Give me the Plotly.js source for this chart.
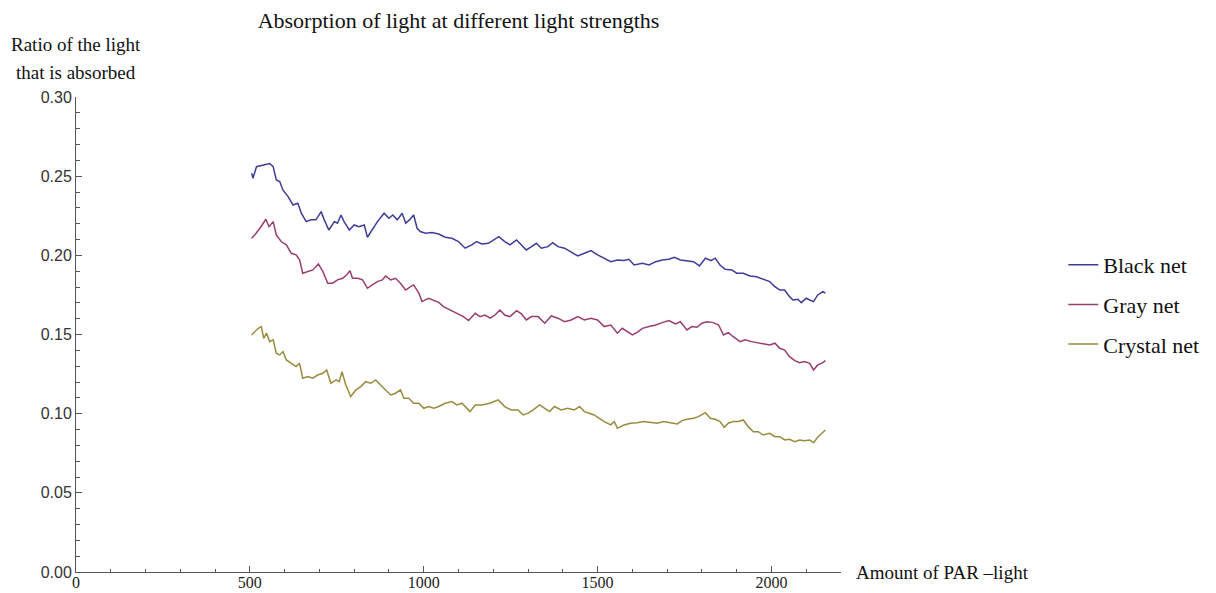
<!DOCTYPE html>
<html>
<head>
<meta charset="utf-8">
<script src="https://cdn.plot.ly/plotly-3.0.1.min.js"></script>
<style>html,body{margin:0;padding:0;background:#fff;}#chart{width:1216px;height:593px;}</style>
</head>
<body>
<div id="chart"></div>
<script>
// ---- data ----
const seriesNames = ["Black net", "Gray net", "Crystal net"];

const blackX = [505,509,519,538,557,567,576,586,595,610,624,638,648,662,676,690,705,714,727,743,752,762,771,786,800,814,829,838,852,867,886,900,911,924,938,948,959,971,981,990,1005,1024,1043,1062,1081,1100,1119,1138,1152,1167,1186,1200,1216,1233,1248,1267,1281,1295,1310,1324,1338,1357,1371,1386,1405,1424,1443,1462,1481,1500,1519,1538,1557,1576,1590,1605,1629,1648,1667,1686,1705,1721,1738,1757,1776,1793,1810,1826,1838,1852,1867,1886,1900,1919,1938,1957,1976,1995,2010,2024,2038,2052,2062,2076,2086,2100,2110,2121,2133,2148,2155];
const blackY = [0.2519,0.2487,0.2560,0.2570,0.2580,0.2560,0.2476,0.2466,0.2413,0.2371,0.2318,0.2329,0.2266,0.2213,0.2224,0.2224,0.2276,0.2224,0.2160,0.2213,0.2203,0.2255,0.2213,0.2160,0.2192,0.2181,0.2192,0.2114,0.2160,0.2213,0.2266,0.2234,0.2255,0.2224,0.2266,0.2203,0.2224,0.2255,0.2171,0.2150,0.2140,0.2144,0.2135,0.2114,0.2108,0.2087,0.2045,0.2066,0.2087,0.2072,0.2076,0.2097,0.2118,0.2087,0.2066,0.2097,0.2066,0.2034,0.2055,0.2076,0.2045,0.2055,0.2080,0.2055,0.2045,0.2023,0.1996,0.2013,0.2030,0.2003,0.1982,0.1960,0.1971,0.1967,0.1975,0.1939,0.1950,0.1939,0.1960,0.1971,0.1975,0.1988,0.1971,0.1967,0.1960,0.1933,0.1982,0.1967,0.1982,0.1939,0.1912,0.1908,0.1887,0.1887,0.1870,0.1865,0.1849,0.1834,0.1802,0.1781,0.1781,0.1739,0.1718,0.1723,0.1701,0.1729,0.1718,0.1708,0.1750,0.1771,0.1761];

const grayX = [505,514,529,546,555,567,576,590,605,619,633,643,652,667,681,697,710,724,738,752,767,778,788,795,810,824,838,852,867,881,890,905,919,933,948,962,971,986,995,1014,1029,1043,1057,1076,1095,1114,1129,1148,1162,1176,1191,1205,1219,1233,1248,1267,1281,1295,1310,1329,1348,1367,1386,1405,1424,1443,1462,1481,1500,1519,1538,1557,1571,1586,1600,1614,1629,1648,1667,1686,1705,1724,1738,1757,1771,1786,1800,1814,1833,1848,1862,1876,1890,1910,1924,1943,1962,1976,1995,2010,2024,2038,2052,2067,2081,2095,2110,2121,2133,2148,2155];
const grayY = [0.2108,0.2129,0.2171,0.2228,0.2181,0.2213,0.2129,0.2087,0.2066,0.2013,0.2003,0.1971,0.1887,0.1897,0.1908,0.1946,0.1897,0.1824,0.1824,0.1845,0.1855,0.1876,0.1903,0.1855,0.1855,0.1845,0.1792,0.1813,0.1834,0.1845,0.1870,0.1845,0.1855,0.1824,0.1781,0.1802,0.1813,0.1761,0.1708,0.1729,0.1718,0.1703,0.1676,0.1655,0.1634,0.1613,0.1588,0.1634,0.1613,0.1623,0.1603,0.1623,0.1655,0.1623,0.1613,0.1651,0.1630,0.1592,0.1613,0.1613,0.1571,0.1617,0.1603,0.1581,0.1592,0.1613,0.1592,0.1603,0.1592,0.1550,0.1560,0.1508,0.1539,0.1518,0.1497,0.1513,0.1539,0.1550,0.1560,0.1575,0.1588,0.1567,0.1581,0.1529,0.1550,0.1546,0.1571,0.1581,0.1575,0.1560,0.1497,0.1512,0.1486,0.1455,0.1466,0.1455,0.1449,0.1440,0.1434,0.1445,0.1413,0.1402,0.1360,0.1335,0.1322,0.1329,0.1318,0.1276,0.1308,0.1322,0.1335];

const crystalX = [505,514,524,533,540,548,557,567,576,586,595,605,619,633,643,652,667,681,695,710,721,733,748,757,765,776,790,805,819,833,848,862,876,890,905,919,933,943,957,971,986,1000,1014,1029,1043,1062,1081,1095,1110,1133,1148,1167,1190,1214,1233,1252,1271,1286,1300,1314,1333,1348,1362,1376,1395,1414,1433,1448,1462,1476,1490,1505,1519,1538,1548,1557,1576,1595,1614,1633,1652,1671,1690,1709,1729,1743,1757,1776,1790,1810,1824,1838,1852,1864,1876,1890,1905,1919,1933,1948,1962,1976,1995,2010,2024,2038,2052,2067,2081,2095,2110,2121,2133,2145,2155];
const crystalY = [0.1497,0.1518,0.1539,0.1550,0.1476,0.1508,0.1455,0.1466,0.1382,0.1371,0.1392,0.1339,0.1318,0.1297,0.1318,0.1224,0.1234,0.1224,0.1244,0.1255,0.1276,0.1192,0.1213,0.1202,0.1265,0.1181,0.1108,0.1150,0.1171,0.1202,0.1192,0.1213,0.1181,0.1150,0.1118,0.1129,0.1150,0.1097,0.1097,0.1066,0.1066,0.1034,0.1045,0.1034,0.1045,0.1066,0.1076,0.1055,0.1066,0.1013,0.1055,0.1055,0.1066,0.1087,0.1045,0.1023,0.1023,0.0992,0.1003,0.1023,0.1055,0.1034,0.1013,0.1045,0.1023,0.1034,0.1023,0.1045,0.1013,0.1003,0.0992,0.0971,0.0950,0.0929,0.0950,0.0908,0.0929,0.0940,0.0942,0.0950,0.0943,0.0940,0.0950,0.0943,0.0935,0.0956,0.0965,0.0971,0.0981,0.1006,0.0971,0.0965,0.0950,0.0914,0.0940,0.0950,0.0950,0.0960,0.0918,0.0886,0.0886,0.0865,0.0876,0.0855,0.0855,0.0834,0.0838,0.0823,0.0834,0.0829,0.0834,0.0817,0.0851,0.0876,0.0897];

const chartTitle = "Absorption of light at different light strengths";
const yTitleLines = ["Ratio of the light", "that is absorbed"];
const xTitle = "Amount of PAR \u2013light";

// ---- drawing ----
const FONT = "Liberation Serif, Times New Roman, serif";
const SANS = "Liberation Sans, Arial, sans-serif";
const colors = ["#3d3d99", "#993d71", "#998b3d"];
const xsAll = [blackX, grayX, crystalX];
const ysAll = [blackY, grayY, crystalY];

const traces = seriesNames.map((n, i) => ({
  type: "scatter", mode: "lines", name: n,
  x: xsAll[i], y: ysAll[i],
  legendgroup: "g" + i,
  line: {color: colors[i], width: 1.5}
}));

const axisCommon = {
  showgrid: false, zeroline: false, showline: true,
  linecolor: "#555", linewidth: 1,
  ticks: "inside", ticklen: 6, tickwidth: 1, tickcolor: "#555",
  fixedrange: true
};

const layout = {
  width: 1216, height: 593,
  margin: {l: 76, r: 369, t: 97, b: 21, pad: 0},
  paper_bgcolor: "#fff", plot_bgcolor: "#fff",
  title: {text: chartTitle, x: 0.5, xref: "paper", xanchor: "center",
          y: 1 - 20/593, yref: "container", yanchor: "middle",
          font: {family: FONT, size: 22, color: "#111"}},
  xaxis: Object.assign({}, axisCommon, {
    range: [0, 2200], tick0: 0, dtick: 500,
    tickfont: {family: FONT, size: 16, color: "#222"},
    ticklabelstandoff: -4,
    minor: {dtick: 100, ticks: "inside", ticklen: 3.5, tickwidth: 1, tickcolor: "#555"}
  }),
  yaxis: Object.assign({}, axisCommon, {
    range: [0, 0.30], tick0: 0, dtick: 0.05, tickformat: ".2f",
    tickfont: {family: SANS, size: 16, color: "#333"},
    minor: {dtick: 0.01, ticks: "inside", ticklen: 3.5, tickwidth: 1, tickcolor: "#555"}
  }),
  showlegend: true,
  legend: {x: (1071-76)/771, xanchor: "left", y: 0.6905, yanchor: "top",
           traceorder: "grouped", tracegroupgap: 8,
           font: {family: FONT, size: 22, color: "#111"},
           bgcolor: "rgba(0,0,0,0)", borderwidth: 0},
  annotations: [
    {text: yTitleLines[0], xref: "paper", yref: "paper", x: 0, y: (572-45)/475,
     xanchor: "center", yanchor: "middle", showarrow: false,
     font: {family: FONT, size: 19, color: "#111"}},
    {text: yTitleLines[1], xref: "paper", yref: "paper", x: 0, y: (572-73)/475,
     xanchor: "center", yanchor: "middle", showarrow: false,
     font: {family: FONT, size: 19, color: "#111"}},
    {text: xTitle, xref: "paper", yref: "paper", x: (860-76)/771, y: 0,
     xanchor: "left", yanchor: "middle", showarrow: false,
     font: {family: FONT, size: 19, color: "#111"}}
  ]
};

Plotly.newPlot("chart", traces, layout, {displayModeBar: false, staticPlot: true});
</script>
</body>
</html>
